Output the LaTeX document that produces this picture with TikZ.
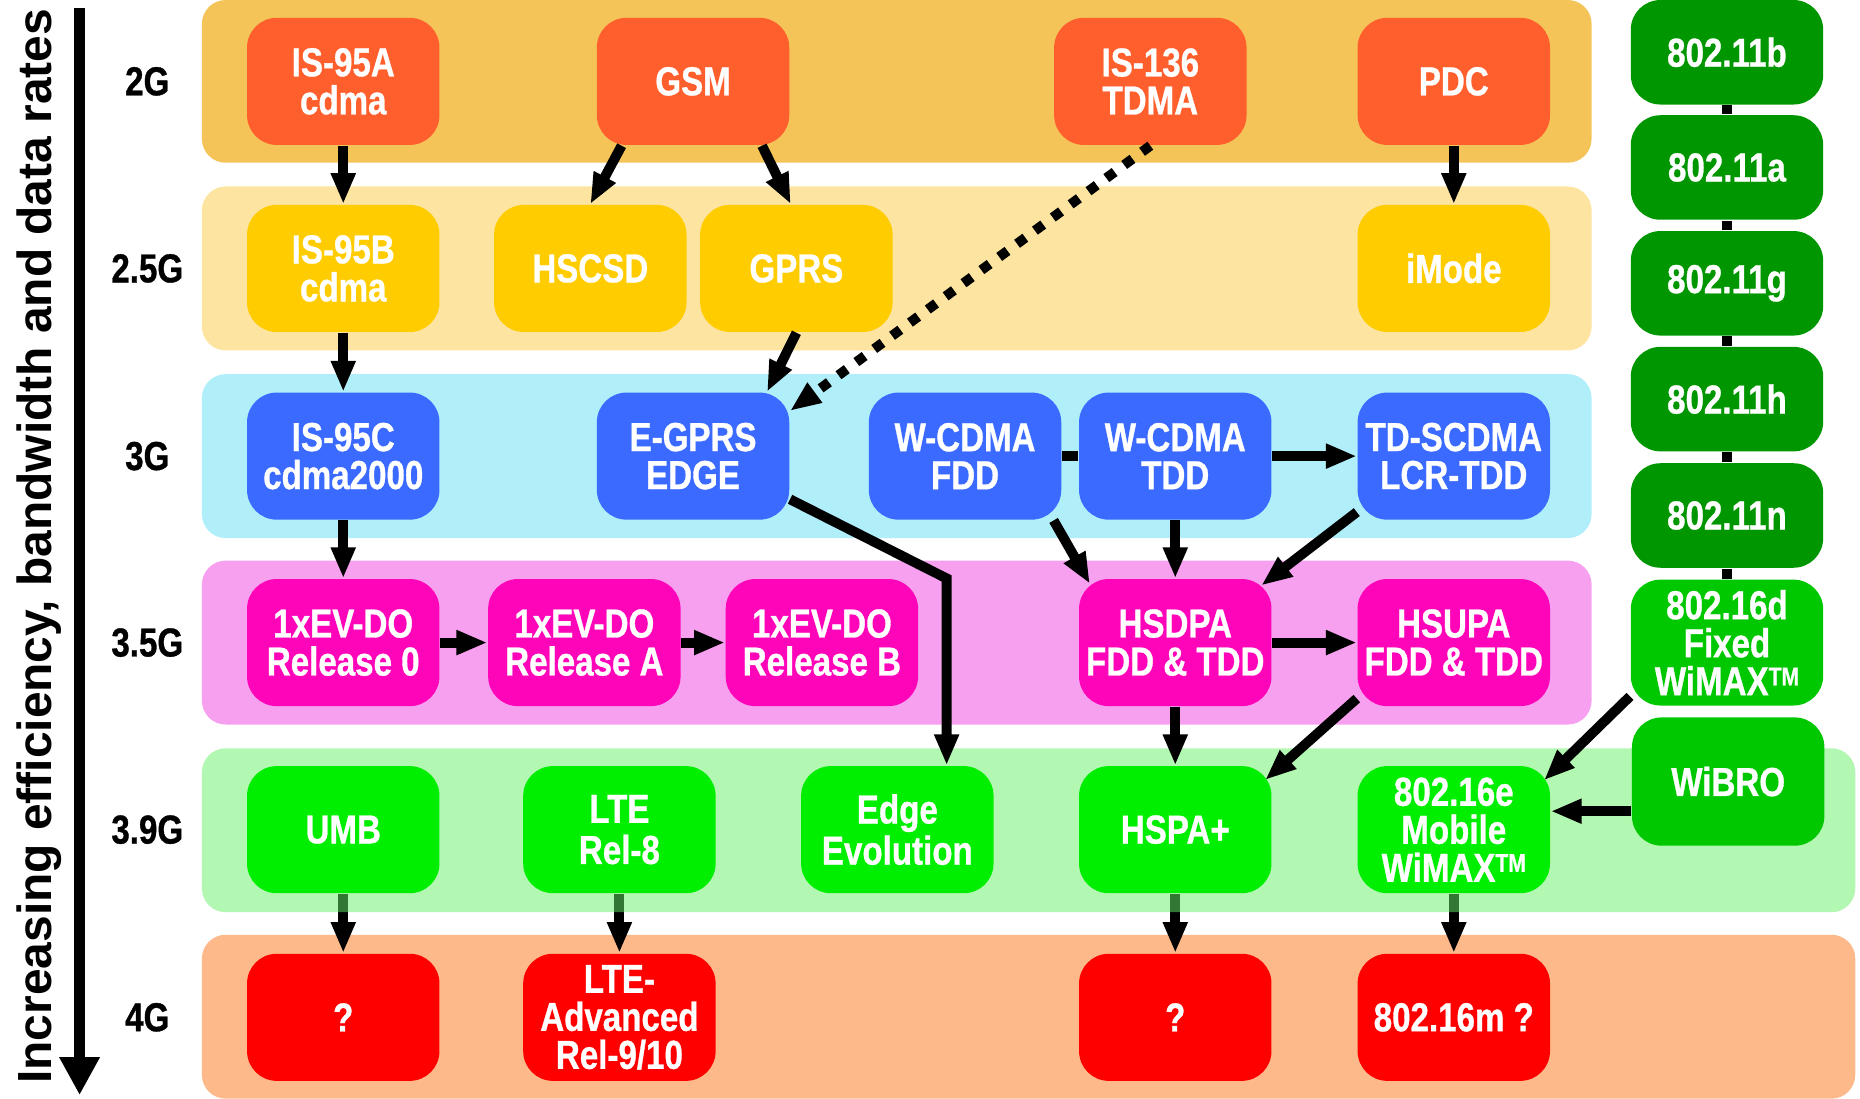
\documentclass[tikz,border=0pt]{standalone}
\usepackage{fontspec}
\setmainfont{Liberation Sans}
\newfontfamily\narrowfont[FakeStretch=0.82, BoldFeatures={FakeBold=0.8}]{Liberation Sans}
\usepackage{tikz}
\usetikzlibrary{arrows.meta}
\usepackage{xcolor}

\definecolor{boxtwo}{HTML}{FF5F2D}
\definecolor{boxtwofive}{HTML}{FFCC00}
\definecolor{boxthree}{HTML}{3A6AFF}
\definecolor{boxthreefive}{HTML}{FF05BA}
\definecolor{boxthreenine}{HTML}{00EE00}
\definecolor{boxfour}{HTML}{FF0000}
\definecolor{wifidark}{HTML}{009600}
\definecolor{wimaxgreen}{HTML}{00C800}
\definecolor{bandtwo}{HTML}{F4C458}
\definecolor{bandtwofive}{HTML}{FDE4A0}
\definecolor{bandthree}{HTML}{B0EEFA}
\definecolor{bandthreefive}{HTML}{F8A0F0}
\definecolor{bandthreenine}{HTML}{65EF65}
\definecolor{bandfour}{HTML}{FDB98A}

\newcommand{\tmark}{\raisebox{2.5pt}{\fontsize{6.5}{6}\selectfont TM}}

\pgfdeclarelayer{bandlayer}
\pgfdeclarelayer{veil}
\pgfsetlayers{bandlayer,veil,main}

\begin{document}
\begin{tikzpicture}[
    x = 0.3pt, y = -0.3pt,
    tech/.style = {rounded corners = 7.5pt, minimum width = 48.6pt,
      minimum height = 32.1pt, inner sep = 0, align = center, text = white,
      font = \narrowfont\bfseries\fontsize{10.2}{9.6}\selectfont},
    loose/.style = {font = \narrowfont\bfseries\fontsize{10.2}{10.4}\selectfont},
    wifi/.style = {tech, minimum height = 26.4pt, fill = wifidark},
    genlabel/.style = {font = \narrowfont\bfseries\fontsize{10.2}{9.6}\selectfont},
    band/.style = {rounded corners = 6pt},
    link/.style = {line width = 2.5pt, -{Triangle[length = 7.8pt, width = 5.8pt]}},
    dotlink/.style = {link, dash pattern = on 2.6pt off 3pt},
    wire/.style = {line width = 2.5pt}
  ]
  \useasboundingbox (0,0) rectangle (1566,924.5);

  % axis on the left
  \coordinate (axtop) at (67,7);
  \coordinate (axbot) at (67,922);
  \draw [line width = 2.8pt, -{Triangle[length = 9.6pt, width = 9.6pt]}] (axtop) -- (axbot);
  \node (axlabel) [rotate = 90, anchor = base, font = \bfseries\fontsize{12.1}{14}\selectfont]
    at (43,460) {Increasing efficiency, bandwidth and data rates};

  % generation labels
  \node [genlabel] (l2g) at (124,68.5) {2G};
  \node [genlabel] (l25g) at (124,226) {2.5G};
  \node [genlabel] (l3g) at (124,384) {3G};
  \node [genlabel] (l35g) at (124,541) {3.5G};
  \node [genlabel] (l39g) at (124,698.5) {3.9G};
  \node [genlabel] (l4g) at (124,856.5) {4G};

  % 2G
  \node [tech, fill = boxtwo] (is95a) at (289,68.5) {IS-95A\\cdma};
  \node [tech, fill = boxtwo] (gsm) at (583.5,68.5) {GSM};
  \node [tech, fill = boxtwo] (is136) at (968.5,68.5) {IS-136\\TDMA};
  \node [tech, fill = boxtwo] (pdc) at (1224,68.5) {PDC};
  % 2.5G
  \node [tech, fill = boxtwofive] (is95b) at (289,226) {IS-95B\\cdma};
  \node [tech, fill = boxtwofive] (hscsd) at (497,226) {HSCSD};
  \node [tech, fill = boxtwofive] (gprs) at (670.5,226) {GPRS};
  \node [tech, fill = boxtwofive] (imode) at (1224,226) {iMode};
  % 3G
  \node [tech, fill = boxthree] (is95c) at (289,384) {IS-95C\\cdma2000};
  \node [tech, fill = boxthree] (egprs) at (583.5,384) {E-GPRS\\EDGE};
  \node [tech, fill = boxthree] (wfdd) at (812.5,384) {W-CDMA\\FDD};
  \node [tech, fill = boxthree] (wtdd) at (989.5,384) {W-CDMA\\TDD};
  \node [tech, fill = boxthree] (tdscdma) at (1224,384) {TD-SCDMA\\LCR-TDD};
  % 3.5G
  \node [tech, fill = boxthreefive] (evdo0) at (289,541) {1xEV-DO\\Release 0};
  \node [tech, fill = boxthreefive] (evdoa) at (492,541) {1xEV-DO\\Release A};
  \node [tech, fill = boxthreefive] (evdob) at (692,541) {1xEV-DO\\Release B};
  \node [tech, fill = boxthreefive] (hsdpa) at (989.5,541) {HSDPA\\FDD \& TDD};
  \node [tech, fill = boxthreefive] (hsupa) at (1224,541) {HSUPA\\FDD \& TDD};
  % 3.9G
  \node [tech, fill = boxthreenine] (umb) at (289,698.5) {UMB};
  \node [tech, loose, fill = boxthreenine] (lte) at (521.5,698.5) {LTE\\Rel-8};
  \node [tech, loose, fill = boxthreenine] (edgeevo) at (755.5,698.5) {Edge\\Evolution};
  \node [tech, fill = boxthreenine] (hspap) at (989.5,698.5) {HSPA+};
  \node [tech, fill = boxthreenine] (mwimax) at (1224,698.5) {802.16e\\Mobile\\WiMAX\tmark};
  % 4G
  \node [tech, fill = boxfour] (qumb) at (289,856.5) {?};
  \node [tech, fill = boxfour] (lteadv) at (521.5,856.5) {LTE-\\Advanced\\Rel-9/10};
  \node [tech, fill = boxfour] (qhspa) at (989.5,856.5) {?};
  \node [tech, fill = boxfour] (wimaxm) at (1224,856.5) {802.16m ?};
  % wireless LAN / WiMAX column
  \node [wifi] (w11b) at (1454,44) {802.11b};
  \node [wifi] (w11a) at (1454,141) {802.11a};
  \node [wifi] (w11g) at (1454,238.5) {802.11g};
  \node [wifi] (w11h) at (1454,336) {802.11h};
  \node [wifi] (w11n) at (1454,434) {802.11n};
  \node [tech, fill = wimaxgreen, minimum height = 31.8pt] (m16d) at (1454,541) {802.16d\\Fixed\\WiMAX\tmark};
  \node [tech, fill = wimaxgreen, minimum height = 32.4pt] (wibro) at (1455,658) {WiBRO};

  \begin{pgfonlayer}{bandlayer}
    \fill [band, bandtwo] (170,0) rectangle (1340,137);
    \fill [band, bandtwofive] (170,157) rectangle (1340,295);
    \fill [band, bandthree] (170,315) rectangle (1340,453);
    \fill [band, bandthreefive] (170,472) rectangle (1340,610);
    \fill [band, bandfour] (170,787) rectangle (1562,925);
    \draw [link] (umb.south) -- (qumb.north);
    \draw [link] (lte.south) -- (lteadv.north);
    \draw [link] (hspap.south) -- (qhspa.north);
    \draw [link] (mwimax.south) -- (wimaxm.north);
  \end{pgfonlayer}
  \begin{pgfonlayer}{veil}
    \fill [band, bandthreenine, fill opacity = 0.5] (170,630) rectangle (1562,768);
  \end{pgfonlayer}

  % cdma line
  \draw [link] (is95a.south) -- (is95b.north);
  \draw [link] (is95b.south) -- (is95c.north);
  \draw [link] (is95c.south) -- (evdo0.north);
  \draw [link] (evdo0.east) -- (evdoa.west);
  \draw [link] (evdoa.east) -- (evdob.west);
  % GSM line
  \draw [link] (gsm.222) -- (hscsd.north);
  \draw [link] (gsm.317) -- (gprs.95);
  \draw [link] (gprs.south) -- (egprs.41);
  \draw [dotlink] (is136.south) -- (egprs.25);
  \coordinate (ebend) at (797,487);
  \draw [link] (egprs.336) -- (ebend) -- (ebend |- edgeevo.north);
  \draw [wire] (wfdd.east) -- (wtdd.west);
  \draw [link] (wtdd.east) -- (tdscdma.west);
  \draw [link, shorten >= -1.6pt] (wfdd.324) -- (hsdpa.144);
  \draw [link] (wtdd.south) -- (hsdpa.north);
  \draw [link, shorten >= -3pt] (tdscdma.210) -- (hsdpa.34);
  \draw [link] (hsdpa.east) -- (hsupa.west);
  \draw [link] (hsdpa.south) -- (hspap.north);
  \draw [link, shorten >= -2.4pt] (hsupa.210) -- (hspap.30);
  \draw [link] (pdc.south) -- (imode.north);
  % 802.x line
  \draw [wire] (w11b.south) -- (w11a.north);
  \draw [wire] (w11a.south) -- (w11g.north);
  \draw [wire] (w11g.south) -- (w11h.north);
  \draw [wire] (w11h.south) -- (w11n.north);
  \draw [wire] (w11n.south) -- (m16d.north);
  \draw [link, shorten >= -2.4pt] (m16d.209) -- (mwimax.30);
  \draw [link] (wibro.197) -- (wibro.197 -| mwimax.east);
\end{tikzpicture}
\end{document}
